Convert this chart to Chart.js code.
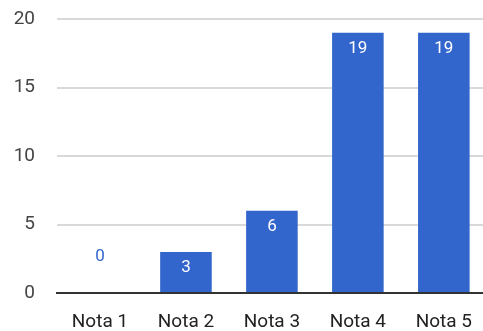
<!DOCTYPE html>
<html>
<head>
<meta charset="utf-8">
<script src="https://cdn.jsdelivr.net/npm/chart.js@4/dist/chart.umd.min.js"></script>
<style>
  html, body { margin: 0; padding: 0; background: #fff; overflow: hidden; }
  #wrap { width: 490px; height: 331px; position: relative; }
</style>
</head>
<body>
<div id="wrap"><canvas id="c"></canvas></div>
<script>
// Grade distribution
const categories = ['Nota 1', 'Nota 2', 'Nota 3', 'Nota 4', 'Nota 5'];
const counts = [0, 3, 6, 19, 19];
const yTicks = [0, 5, 10, 15, 20];

const BAR_COLOR = '#3366cc';
const FONT = 'Roboto, "Liberation Sans", Arial, sans-serif';

// Value labels: white inside the top of each bar, blue above the axis for empty bars
const valueLabels = {
  id: 'valueLabels',
  afterDatasetsDraw(chart) {
    const ctx = chart.ctx;
    const meta = chart.getDatasetMeta(0);
    const yScale = chart.scales.y;
    ctx.save();
    ctx.font = '17px ' + FONT;
    ctx.textAlign = 'center';
    ctx.textBaseline = 'middle';
    meta.data.forEach((bar, i) => {
      const v = counts[i];
      if (v === 0) {
        ctx.fillStyle = BAR_COLOR;
        ctx.fillText(String(v), bar.x, yScale.getPixelForValue(0) - 36);
      } else {
        ctx.fillStyle = '#ffffff';
        ctx.fillText(String(v), bar.x, bar.y + 16);
      }
    });
    ctx.restore();
  }
};

new Chart(document.getElementById('c'), {
  type: 'bar',
  data: {
    labels: categories,
    datasets: [{
      data: counts,
      backgroundColor: BAR_COLOR,
      borderWidth: 0,
      barPercentage: 0.6,
      categoryPercentage: 1.0
    }]
  },
  options: {
    responsive: true,
    maintainAspectRatio: false,
    animation: false,
    layout: { padding: { top: 19, right: 0, left: 0, bottom: 0 } },
    plugins: {
      legend: { display: false },
      tooltip: { enabled: false }
    },
    scales: {
      x: {
        grid: { display: false, drawTicks: false },
        border: { display: true, color: '#333333', width: 2 },
        ticks: {
          color: '#222222',
          padding: 18,
          font: { family: FONT, size: 19 }
        },
        afterFit(scale) { scale.height = 38; }
      },
      y: {
        min: 0,
        max: 20,
        afterBuildTicks(scale) { scale.ticks = yTicks.map(v => ({ value: v })); },
        grid: { color: '#d9d9d9', lineWidth: 2, drawTicks: false },
        border: { display: false },
        ticks: {
          color: '#444444',
          padding: 22,
          font: { family: FONT, size: 19 }
        },
        afterFit(scale) {
          scale.width = 57;
          scale.paddingTop = 0;
          scale.paddingBottom = 0;
        }
      }
    }
  },
  plugins: [valueLabels]
});
</script>
</body>
</html>
